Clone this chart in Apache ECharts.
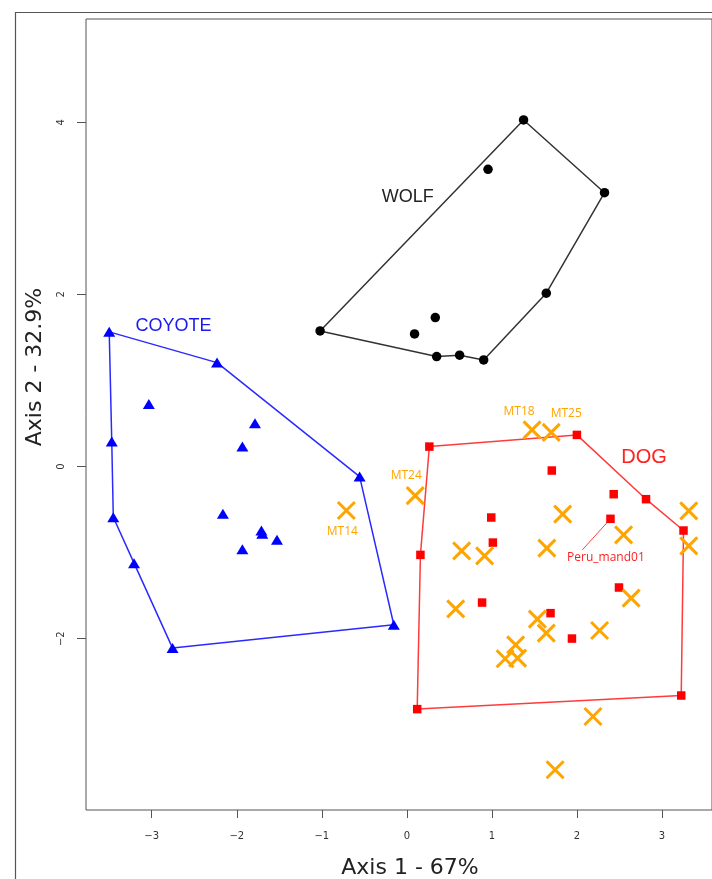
<!DOCTYPE html>
<html>
<head>
<meta charset="utf-8">
<script src="https://cdn.jsdelivr.net/npm/echarts@6/dist/echarts.min.js"></script>
<style>html,body{margin:0;padding:0;background:#fff}#c{width:712px;height:879px}</style>
</head>
<body>
<div id="c"></div>
<script>
// ---- data ----
const coyoteX = [-3.50, -2.232, -3.034, -1.786, -1.934, -3.47, -0.555, -3.452, -2.163, -1.71, -1.70, -1.527, -1.934, -3.208, -2.755, -0.153];
const coyoteY = [1.565, 1.208, 0.728, 0.504, 0.232, 0.29, -0.116, -0.588, -0.549, -0.743, -0.78, -0.851, -0.96, -1.122, -2.109, -1.838];
const coyoteHull = [0, 1, 6, 15, 14, 13, 7, 5, 0];

const wolfX = [1.373, 0.955, 2.325, 1.64, -1.02, 0.335, 0.091, 0.351, 0.621, 0.904];
const wolfY = [4.027, 3.454, 3.182, 2.014, 1.576, 1.731, 1.541, 1.278, 1.294, 1.239];
const wolfHull = [4, 0, 2, 3, 9, 8, 7, 4];

const dogX = [0.265, 2.0, 1.705, 2.433, 2.813, 2.395, 0.993, 1.012, 3.254, 0.16, 2.495, 0.885, 1.69, 1.942, 0.122, 3.227];
const dogY = [0.232, 0.368, -0.046, -0.321, -0.379, -0.607, -0.592, -0.883, -0.743, -1.026, -1.405, -1.58, -1.703, -1.998, -2.818, -2.66];
const dogHull = [0, 1, 4, 8, 15, 14, 9, 0];

const sampleNames = ['MT14', 'MT24', 'MT18', 'MT25', '', '', '', '', '', '', '', '', '', '', '', '', '', '', '', '', ''];
const sampleX = [-0.711, 0.099, 1.473, 1.698, 1.833, 2.549, 3.316, 3.316, 1.647, 0.645, 0.915, 2.638, 0.575, 1.535, 1.64, 2.267, 1.28, 1.156, 1.303, 2.189, 1.744];
const sampleY = [-0.511, -0.337, 0.426, 0.398, -0.553, -0.793, -0.514, -0.921, -0.948, -0.979, -1.037, -1.529, -1.653, -1.773, -1.935, -1.905, -2.071, -2.233, -2.226, -2.904, -3.523];

const groupLabels = ['COYOTE', 'WOLF', 'DOG'];
const groupLabelX = [-2.743, 0.012, 2.791];
const groupLabelY = [1.634, 3.132, 0.105];

const peruIndex = 5;           // index in dog arrays
const peruLabel = 'Peru_mand01';
const peruAnchor = [2.065, -0.967];

const xTicks = [-3, -2, -1, 0, 1, 2, 3];
const yTicks = [-2, 0, 2, 4];

// ---- styles ----
const C_BLUE = '#0000FF', C_BLACK = '#000000', C_RED = '#FF0000', C_ORANGE = '#FFA500';
const sampleLabelOffsets = {
  MT14: [-4, 21], MT24: [-9, -20], MT18: [-13, -18], MT25: [15, -19]
};
const groupLabelStyle = {
  COYOTE: {color: '#1a1aee', fontSize: 18},
  WOLF: {color: '#222222', fontSize: 18},
  DOG: {color: '#ff2020', fontSize: 20}
};

const pts = (xs, ys) => xs.map((x, i) => [x, ys[i]]);
const hull = (xs, ys, idx) => idx.map(i => [xs[i], ys[i]]);
const minus = v => String(v).replace('-', '\u2212');

const hullSeries = (data, color) => ({
  type: 'line', data, symbol: 'none', silent: true, z: 2, animation: false,
  lineStyle: {color, width: 1.5}
});

const chart = echarts.init(document.getElementById('c'), null, {renderer: 'canvas'});
chart.setOption({
  animation: false,
  backgroundColor: '#fff',
  grid: {left: 86, top: 19, width: 634, height: 791, show: true, borderColor: '#555', borderWidth: 1, backgroundColor: 'transparent'},
  xAxis: {
    type: 'value', min: -3.773, max: 3.589,
    axisLine: {show: false, onZero: false},
    splitLine: {show: false},
    axisTick: {show: true, inside: false, length: 8, lineStyle: {color: '#555', width: 1}, customValues: xTicks},
    axisLabel: {customValues: xTicks, margin: 21, fontFamily: 'DejaVu Sans', fontSize: 10, color: '#333', formatter: minus}
  },
  yAxis: {
    type: 'value', min: -3.99, max: 5.2,
    axisLine: {show: false, onZero: false},
    splitLine: {show: false},
    axisTick: {show: true, inside: false, length: 9, lineStyle: {color: '#555', width: 1}, customValues: yTicks},
    axisLabel: {customValues: yTicks, rotate: 90, margin: 20, fontFamily: 'DejaVu Sans', fontSize: 10, color: '#333', formatter: minus}
  },
  graphic: [
    {type: 'rect', shape: {x: 15.5, y: 12.5, width: 900, height: 1000}, style: {fill: 'none', stroke: '#555', lineWidth: 1.2}, silent: true, z: -1},
    {type: 'text', x: 410, y: 868, style: {text: 'Axis 1 - 67%', fontFamily: 'DejaVu Sans', fontSize: 22, fill: '#222', align: 'center', verticalAlign: 'middle'}},
    {type: 'text', x: 35, y: 367, rotation: Math.PI / 2, style: {text: 'Axis 2 - 32.9%', fontFamily: 'DejaVu Sans', fontSize: 22, fill: '#222', align: 'center', verticalAlign: 'middle'}}
  ],
  series: [
    hullSeries(hull(coyoteX, coyoteY, coyoteHull), '#2a2aff'),
    hullSeries(hull(wolfX, wolfY, wolfHull), '#333333'),
    hullSeries(hull(dogX, dogY, dogHull), '#ff3b3b'),
    {
      type: 'line', data: [[dogX[peruIndex], dogY[peruIndex]], peruAnchor], symbol: 'none', silent: true, z: 2,
      lineStyle: {color: '#ff4040', width: 1},
      markPoint: {
        symbol: 'circle', symbolSize: 0,
        data: [{coord: peruAnchor, value: peruLabel}],
        label: {show: true, formatter: peruLabel, position: 'inside', offset: [23.5, 7.5], color: '#ff2020', fontFamily: 'Open Sans', fontSize: 12}
      }
    },
    {type: 'scatter', data: pts(coyoteX, coyoteY), symbol: 'triangle', symbolSize: [12, 10], itemStyle: {color: C_BLUE, opacity: 1}, z: 3},
    {type: 'scatter', data: pts(wolfX, wolfY), symbol: 'circle', symbolSize: 9.5, itemStyle: {color: C_BLACK, opacity: 1}, z: 3},
    {type: 'scatter', data: pts(dogX, dogY), symbol: 'rect', symbolSize: 8.5, itemStyle: {color: C_RED, opacity: 1}, z: 3},
    {
      type: 'scatter',
      data: sampleX.map((x, i) => ({
        value: [x, sampleY[i]], name: sampleNames[i],
        label: sampleNames[i] ? {show: true, offset: sampleLabelOffsets[sampleNames[i]]} : {show: false}
      })),
      symbol: 'path://M0,0L10,10M10,0L0,10', symbolSize: 17,
      itemStyle: {color: 'none', borderColor: C_ORANGE, borderWidth: 3, opacity: 1},
      label: {position: 'inside', formatter: p => p.name, color: C_ORANGE, fontFamily: 'Open Sans', fontSize: 12},
      z: 4
    },
    {
      type: 'scatter', symbolSize: 0, silent: true, z: 5,
      itemStyle: {opacity: 1},
      data: groupLabels.map((n, i) => ({
        value: [groupLabelX[i], groupLabelY[i]], name: n,
        label: {color: groupLabelStyle[n].color, fontSize: groupLabelStyle[n].fontSize}
      })),
      label: {show: true, position: 'inside', formatter: p => p.name, fontFamily: 'Liberation Sans'}
    }
  ]
});
</script>
</body>
</html>
